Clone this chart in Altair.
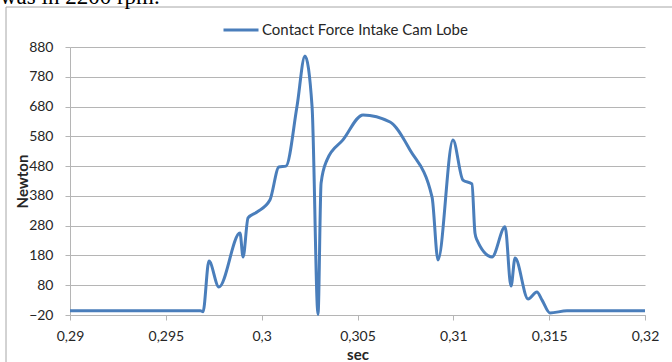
import altair as alt
import pandas as pd

# Contact force on the intake cam lobe over one lift event
t_sec = [0.29, 0.2968, 0.29694, 0.29725, 0.29777, 0.29887, 0.29903, 0.29929,
         0.29976, 0.30043, 0.3009, 0.30127, 0.30184, 0.30226, 0.30263, 0.30294,
         0.3031, 0.30341, 0.30424, 0.30529, 0.3067, 0.30774, 0.30889, 0.3092,
         0.30998, 0.3105, 0.31097, 0.31113, 0.31123, 0.31202, 0.3127, 0.31301,
         0.31322, 0.3139, 0.31436, 0.31463, 0.31504, 0.31593, 0.32]
force_n = [-6, -6, -9, 161, 74, 255, 175, 306,
           326, 366, 477, 480, 679, 850, 679, -18,
           423, 501, 568, 652, 628, 534, 376, 165,
           568, 433, 420, 255, 232, 175, 276, 77,
           171, 34, 57, 30, -13, -6, -6]
series_name = "Contact Force Intake Cam Lobe"

x_ticks = [0.29, 0.295, 0.3, 0.305, 0.31, 0.315, 0.32]
y_ticks = [-20, 80, 180, 280, 380, 480, 580, 680, 780, 880]

df = pd.DataFrame({"t": t_sec, "f": force_n, "s": series_name})

FONT = "Lato"
TXT = "#262626"
GRID = "#b5b5b5"
W, H = 575, 268

line = alt.Chart(df).mark_line(
    interpolate="monotone", strokeWidth=3
).encode(
    x=alt.X("t:Q", scale=alt.Scale(domain=[0.29, 0.32], nice=False, zero=False),
            axis=alt.Axis(values=x_ticks, title="sec", grid=False, labelFlush=False,
                          labelExpr="replace(format(datum.value, '.3~f'), '.', ',')",
                          tickSize=5, labelPadding=9, domainColor=GRID, tickColor=GRID,
                          titleY=39, titleBaseline="middle")),
    y=alt.Y("f:Q", scale=alt.Scale(domain=[-20, 880], nice=False, zero=False),
            axis=alt.Axis(values=y_ticks, title="Newton", grid=True, gridColor=GRID,
                          tickSize=5, labelPadding=12, domainColor=GRID, tickColor=GRID,
                          labelFlush=False,
                          titleX=-48, titleY=H / 2, titleBaseline="middle")),
    color=alt.Color("s:N", scale=alt.Scale(range=["#4A7EBB"]),
                    legend=alt.Legend(title=None, orient="none", legendX=152, legendY=-36,
                                      symbolType="stroke", symbolSize=1225,
                                      symbolStrokeWidth=3, labelOffset=2, padding=0,
                                      labelLimit=0,
                                      labelFont=FONT, labelFontSize=15, labelColor=TXT)),
)

# outer frame of the figure
frame = alt.Chart(df.head(1)).mark_rect(
    fill=None, stroke="#a6a6a6", strokeWidth=1
).encode(x=alt.value(-64), x2=alt.value(700), y=alt.value(-40), y2=alt.value(400))

# running text of the page sitting above the figure
caption = alt.Chart(df.head(1)).mark_text(
    text="was in 2200 rpm.", font="Liberation Serif", fontSize=23,
    align="left", baseline="alphabetic", color="#000000"
).encode(x=alt.value(-70), y=alt.value(-43))

chart = alt.layer(frame, caption, line).properties(
    width=W, height=H,
    autosize=alt.AutoSizeParams(type="none"),
    padding={"left": 70, "top": 47, "right": 27, "bottom": 47},
).configure_view(stroke=None).configure_axis(
    labelFont=FONT, labelFontSize=14, labelColor=TXT,
    titleFont=FONT, titleFontSize=15, titleFontWeight="bold", titleColor=TXT,
)

chart.save("out.html", embed_options={"renderer": "svg", "actions": False})
